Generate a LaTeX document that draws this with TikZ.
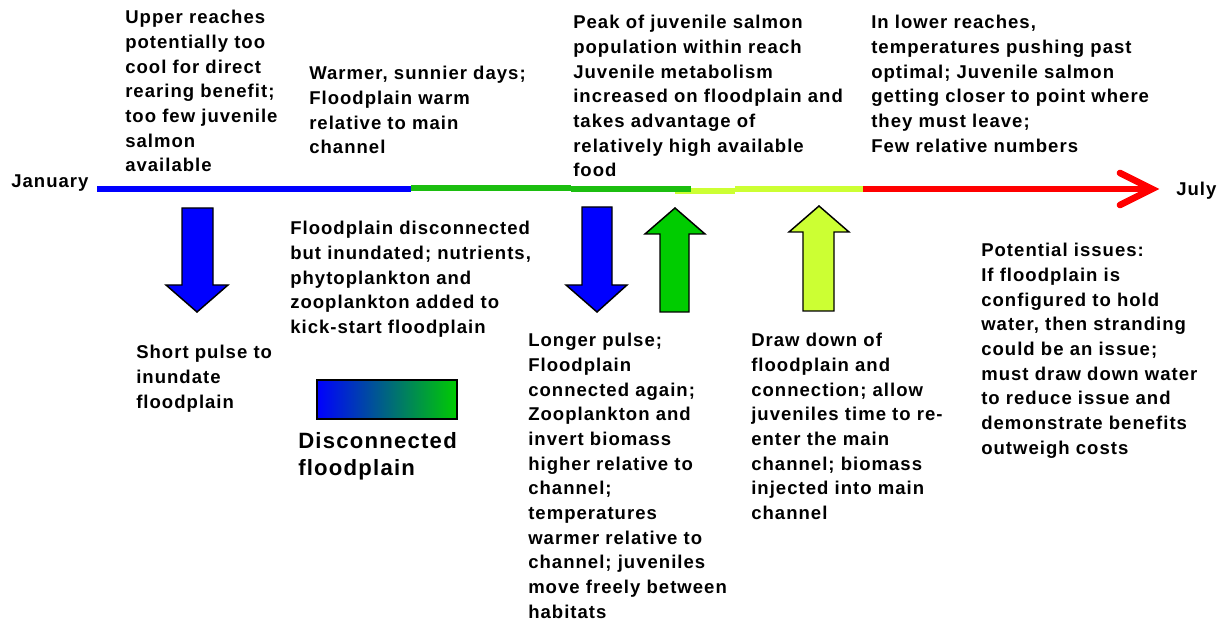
\documentclass[tikz,border=0pt]{standalone}
\usepackage{fontspec}
\setmainfont[LetterSpace=5.5]{Liberation Sans}
\usepackage{tikz}

\definecolor{seggreen}{RGB}{28,190,16}
\definecolor{arrowgreen}{RGB}{0,204,0}
\definecolor{lime}{RGB}{204,255,51}

\tikzset{
  note/.style={anchor=north west, inner sep=0pt, align=left, font=\fontsize{13.9}{18.5}\selectfont\bfseries},
  bignote/.style={note, font=\fontsize{16.6}{20.25}\selectfont\bfseries},
  track/.style={line width=5pt},
  blockarrow/.style={draw=black, line width=1.1pt, line join=miter},
}

\begin{document}
\begin{tikzpicture}[x=0.75pt, y=-0.75pt]
				\useasboundingbox (0,0) rectangle (1222,623);
				
				% month ends
				\node (jan) [note] at (11,174) {January};
				\node (jul) [note] at (1176,182) {July};
				
				% timeline break points
				\coordinate (t0) at (97,189);
				\coordinate (t1) at (411,189);
				\coordinate (t2) at (571,189);
				\coordinate (t3) at (691,189);
				\coordinate (t4) at (863,189);
				\coordinate (tip) at (1152,189);
				
				\draw[track, blue] (t0) -- (t1);
				\draw[track, seggreen] ([yshift=0.75pt]t1) -- ([yshift=0.75pt]t2);
				\draw[track, lime] ([xshift=-12pt,yshift=-1.5pt]t3) -- ([xshift=33pt,yshift=-1.5pt]t3);
				\draw[track, seggreen] (t2) -- (t3);
				\draw[track, lime] ([xshift=33pt]t3) -- (t4);
				\draw[track, red] (t4) -- ([xshift=-3pt]tip);
				\draw[track, red, line cap=round, line join=miter] ([xshift=-24pt,yshift=12pt]tip) -- (tip) -- ([xshift=-24pt,yshift=-12pt]tip);
				
				% texts above the line
				\node (upper) [note] at (125,10) {Upper reaches\\potentially too\\cool for direct\\rearing benefit;\\too few juvenile\\salmon\\available};
				\node (warmer) [note] at (309,66) {Warmer, sunnier days;\\Floodplain warm\\relative to main\\channel};
				\node (peak) [note] at (573,15) {Peak of juvenile salmon\\population within reach\\Juvenile metabolism\\increased on floodplain and\\takes advantage of\\relatively high available\\food};
				\node (lower) [note] at (871,15) {In lower reaches,\\temperatures pushing past\\optimal; Juvenile salmon\\getting closer to point where\\they must leave;\\Few relative numbers};
				
				% block arrows
				\draw[blockarrow, fill=blue] (182,208) -- (213,208) -- (213,285) -- (228,285) -- (197,312) -- (166,285) -- (182,285) -- cycle;
				\draw[blockarrow, fill=blue] (582,207) -- (612,207) -- (612,285) -- (627,285) -- (597,312) -- (566,285) -- (582,285) -- cycle;
				\draw[blockarrow, fill=arrowgreen] (660,312) -- (660,234) -- (645,234) -- (675,208) -- (705,234) -- (689,234) -- (689,312) -- cycle;
				\draw[blockarrow, fill=lime] (803,311) -- (803,232) -- (789,232) -- (819,206) -- (849,232) -- (834,232) -- (834,311) -- cycle;
				
				% texts below the line
				\node (disc) [note] at (290,221) {Floodplain disconnected\\but inundated; nutrients,\\phytoplankton and\\zooplankton added to\\kick-start floodplain};
				\node (short) [note] at (136,345) {Short pulse to\\inundate\\floodplain};
				\node (longer) [note] at (528,333) {Longer pulse;\\Floodplain\\connected again;\\Zooplankton and\\invert biomass\\higher relative to\\channel;\\temperatures\\warmer relative to\\channel; juveniles\\move freely between\\habitats};
				\node (draw) [note] at (751,333) {Draw down of\\floodplain and\\connection; allow\\juveniles time to re-\\enter the main\\channel; biomass\\injected into main\\channel};
				\node (issues) [note] at (981,243) {Potential issues:\\If floodplain is\\configured to hold\\water, then stranding\\could be an issue;\\must draw down water\\to reduce issue and\\demonstrate benefits\\outweigh costs};
				
				% legend
				\draw[line width=1.1pt, left color=blue, right color=arrowgreen] (317,380) rectangle (457,419);
				\node (legend) [bignote] at (298,432) {Disconnected\\floodplain};
				
			\end{tikzpicture}
\end{document}
